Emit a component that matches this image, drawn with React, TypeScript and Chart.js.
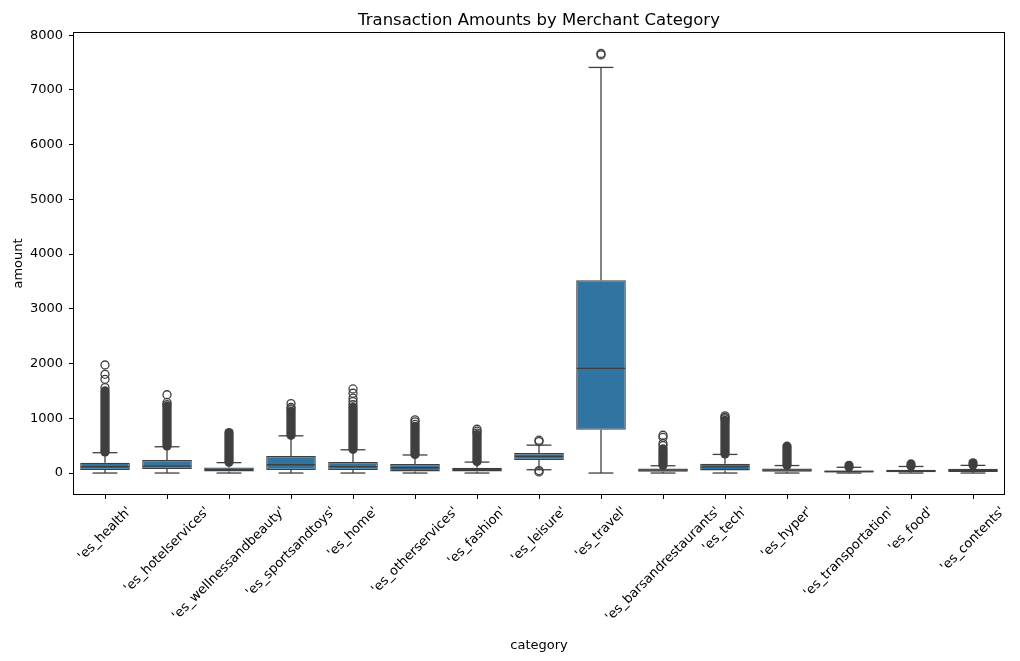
import React, { useEffect, useRef } from "react";
import { Chart, registerables } from "chart.js";

Chart.register(...registerables);

const categories = [
  "'es_health'",
  "'es_hotelservices'",
  "'es_wellnessandbeauty'",
  "'es_sportsandtoys'",
  "'es_home'",
  "'es_otherservices'",
  "'es_fashion'",
  "'es_leisure'",
  "'es_travel'",
  "'es_barsandrestaurants'",
  "'es_tech'",
  "'es_hyper'",
  "'es_transportation'",
  "'es_food'",
  "'es_contents'",
];

const whiskerLow = [0, 0, 0, 0, 0, 0, 0, 60, 0, 0, 0, 0, 0, 0, 0];
const q1 = [55, 72, 30, 54, 55, 30, 30, 237, 789, 24, 48, 22, 12, 15, 20];
const median = [115, 127, 64, 151, 118, 97, 60, 303, 1913, 54, 112, 54, 28, 35, 50];
const q3 = [190, 240, 103, 312, 203, 163, 97, 364, 3523, 84, 170, 82, 45, 60, 80];
const whiskerHigh = [372, 480, 190, 680, 425, 330, 200, 510, 7411, 133, 340, 137, 105, 120, 140];

// dense outlier runs (overlapping circles forming a solid column): start / end values
const denseLow = [385, 495, 200, 690, 435, 340, 210, null, null, 145, 350, 145, 112, 128, 148];
const denseHigh = [1500, 1220, 740, 1130, 1200, 850, 700, null, null, 440, 960, 490, 140, 165, 185];

// individually visible outliers
const sparseOutliers: number[][] = [
  [1560, 1713, 1804, 1974],
  [1250, 1290, 1430],
  [],
  [1170, 1200, 1270],
  [1250, 1305, 1367, 1458, 1536],
  [890, 935, 971],
  [730, 765, 800],
  [20, 45, 575, 600],
  [7640, 7665],
  [500, 540, 650, 690],
  [990, 1015, 1044],
  [],
  [],
  [],
  [],
];

const yTickValues = [0, 1000, 2000, 3000, 4000, 5000, 6000, 7000, 8000];
const yMin = -383;
const yMax = 8040;

const FONT = "'DejaVu Sans', sans-serif";
const LINE = "#3f3f3f";
const FILL = "#3274a1";
const FLIER_R = 4;
const LW = 1.3;

const boxExtras = {
  id: "boxExtras",
  afterDatasetsDraw(chart: any) {
    const ctx = chart.ctx;
    const xs = chart.scales.x;
    const ys = chart.scales.y;
    const step = xs.getPixelForValue(1) - xs.getPixelForValue(0);
    const boxHalf = step * 0.4;
    const capHalf = step * 0.2;
    const area = chart.chartArea;
    ctx.save();
    ctx.beginPath();
    ctx.rect(area.left, area.top, area.right - area.left, area.bottom - area.top);
    ctx.clip();
    ctx.strokeStyle = LINE;
    const seg = (x1: number, y1: number, x2: number, y2: number) => {
      ctx.beginPath();
      ctx.moveTo(x1, y1);
      ctx.lineTo(x2, y2);
      ctx.stroke();
    };
    categories.forEach((_, i) => {
      const cx = xs.getPixelForValue(i);
      ctx.lineWidth = LW;
      ctx.lineCap = "butt";
      seg(cx, ys.getPixelForValue(q3[i]), cx, ys.getPixelForValue(whiskerHigh[i]));
      seg(cx, ys.getPixelForValue(q1[i]), cx, ys.getPixelForValue(whiskerLow[i]));
      seg(cx - capHalf, ys.getPixelForValue(whiskerHigh[i]), cx + capHalf, ys.getPixelForValue(whiskerHigh[i]));
      seg(cx - capHalf, ys.getPixelForValue(whiskerLow[i]), cx + capHalf, ys.getPixelForValue(whiskerLow[i]));
      seg(cx - boxHalf + 0.6, ys.getPixelForValue(median[i]), cx + boxHalf - 0.6, ys.getPixelForValue(median[i]));
      const lo = denseLow[i];
      const hi = denseHigh[i];
      if (lo !== null && hi !== null) {
        ctx.lineWidth = FLIER_R * 2 + LW;
        ctx.lineCap = "round";
        seg(cx, ys.getPixelForValue(lo), cx, ys.getPixelForValue(hi));
      }
    });
    ctx.restore();
  },
  afterDraw(chart: any) {
    const ctx = chart.ctx;
    const xs = chart.scales.x;
    const area = chart.chartArea;
    ctx.save();
    // frame
    ctx.strokeStyle = "#000";
    ctx.lineWidth = 1;
    const l = Math.round(area.left) - 0.5;
    const t = Math.round(area.top) - 0.5;
    const r = Math.round(area.right) + 0.5;
    const b = Math.round(area.bottom) + 0.5;
    ctx.strokeRect(l, t, r - l, b - t);

    ctx.fillStyle = "#000";
    // title
    ctx.font = `16.5px ${FONT}`;
    ctx.textAlign = "center";
    ctx.textBaseline = "alphabetic";
    ctx.fillText("Transaction Amounts by Merchant Category", (area.left + area.right) / 2, 24.5);

    // x tick labels, rotated 45deg, centered on tick (matplotlib style)
    ctx.font = `13px ${FONT}`;
    const top = area.bottom + 10;
    let maxBottom = top;
    categories.forEach((lab, i) => {
      const w = ctx.measureText(lab).width;
      const h = 15;
      const d = (w + h) * Math.SQRT1_2;
      const cx = xs.getPixelForValue(i);
      const cy = top + d / 2;
      maxBottom = Math.max(maxBottom, top + d);
      ctx.save();
      ctx.translate(cx, cy);
      ctx.rotate(-Math.PI / 4);
      ctx.textAlign = "center";
      ctx.textBaseline = "middle";
      ctx.fillText(lab, 0, 0);
      ctx.restore();
    });

    // x axis title
    ctx.textAlign = "center";
    ctx.textBaseline = "alphabetic";
    ctx.fillText("category", (area.left + area.right) / 2, maxBottom + 24);

    // y axis title
    ctx.save();
    ctx.translate(22, (area.top + area.bottom) / 2);
    ctx.rotate(-Math.PI / 2);
    ctx.textAlign = "center";
    ctx.textBaseline = "alphabetic";
    ctx.fillText("amount", 0, 0);
    ctx.restore();
    ctx.restore();
  },
};

export default function App() {
  const ref = useRef<HTMLCanvasElement | null>(null);
  useEffect(() => {
    if (!ref.current) return;
    const flierData: { x: string; y: number }[] = [];
    sparseOutliers.forEach((arr, i) => arr.forEach((v) => flierData.push({ x: categories[i], y: v })));
    const chart = new Chart(ref.current, {
      type: "bar",
      data: {
        labels: categories,
        datasets: [
          {
            type: "bar",
            data: categories.map((_, i) => [q1[i], q3[i]]) as any,
            backgroundColor: FILL,
            borderColor: LINE,
            borderWidth: LW,
            borderSkipped: false,
            barPercentage: 0.8,
            categoryPercentage: 1.0,
          },
          {
            type: "line",
            data: flierData as any,
            showLine: false,
            pointRadius: FLIER_R,
            pointHoverRadius: FLIER_R,
            pointBorderWidth: LW,
            pointBackgroundColor: "rgba(0,0,0,0)",
            pointBorderColor: LINE,
            pointStyle: "circle",
          },
        ],
      },
      options: {
        responsive: false,
        animation: false,
        devicePixelRatio: 1,
        layout: { padding: { left: 0, top: 33, right: 16, bottom: 137 } },
        plugins: { legend: { display: false }, tooltip: { enabled: false }, title: { display: false } },
        scales: {
          x: {
            type: "category",
            offset: true,
            grid: { display: true, drawOnChartArea: false, drawTicks: true, tickLength: 5, color: "#000", lineWidth: 1, offset: false },
            border: { display: false },
            ticks: { display: false },
            afterFit: (s: any) => {
              s.height = 30;
            },
          },
          y: {
            type: "linear",
            min: yMin,
            max: yMax,
            grid: { display: true, drawOnChartArea: false, drawTicks: true, tickLength: 5, color: "#000", lineWidth: 1 },
            border: { display: false },
            ticks: {
              color: "#000",
              font: { family: FONT, size: 13 },
              padding: 6,
              callback: (v: any) => String(v),
            },
            afterBuildTicks: (s: any) => {
              s.ticks = yTickValues.map((v) => ({ value: v }));
            },
            afterFit: (s: any) => {
              s.width = 74;
            },
          },
        },
      },
      plugins: [boxExtras],
    });
    return () => chart.destroy();
  }, []);
  return (
    <div style={{ position: "fixed", left: 0, top: 0, width: 1020, height: 661, background: "#fff" }}>
      <canvas ref={ref} width={1020} height={661} style={{ display: "block", width: 1020, height: 661 }} />
    </div>
  );
}
